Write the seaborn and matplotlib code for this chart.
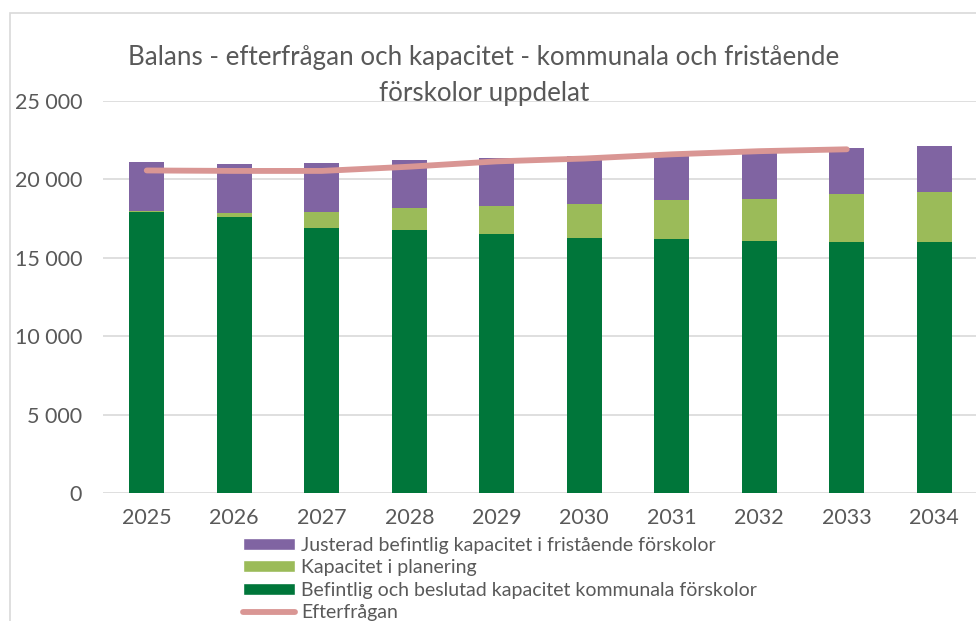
import matplotlib
matplotlib.use("Agg")
import matplotlib.pyplot as plt
import seaborn as sns
import pandas as pd
import numpy as np
from matplotlib.patches import Patch, Rectangle
from matplotlib.lines import Line2D
from matplotlib.ticker import FuncFormatter

years = ["2025", "2026", "2027", "2028", "2029", "2030", "2031", "2032", "2033", "2034"]
befintlig = [17920, 17600, 16900, 16770, 16520, 16260, 16200, 16070, 16010, 16010]
planering = [80, 255, 1020, 1410, 1780, 2170, 2490, 2680, 3060, 3190]
fristaende = [3110, 3125, 3130, 3060, 3060, 3050, 2950, 3050, 2930, 2930]
efterfragan_years = ["2025", "2026", "2027", "2028", "2029", "2030", "2031", "2032", "2033"]
efterfragan = [20570, 20540, 20540, 20810, 21150, 21330, 21600, 21800, 21920]

labels = ["Justerad befintlig kapacitet i fristående förskolor",
          "Kapacitet i planering",
          "Befintlig och beslutad kapacitet kommunala förskolor",
          "Efterfrågan"]
title = "Balans - efterfrågan och kapacitet - kommunala och fristående\nförskolor uppdelat"

c_purple = "#8064A2"
c_light = "#9BBB59"
c_green = "#00763A"
c_line = "#D99694"
c_text = "#595959"
c_grid = "#D9D9D9"

sns.set_theme(style="white")
plt.rcParams["font.family"] = ["Lato", "DejaVu Sans"]

df = pd.DataFrame({"year": years, "bef": befintlig, "plan": planering, "fri": fristaende})
df["lvl2"] = df["bef"] + df["plan"]
df["lvl3"] = df["lvl2"] + df["fri"]

fig = plt.figure(figsize=(9.76, 6.21), dpi=100)
# chart border
fig.patches.append(Rectangle((10 / 976, -0.1), 1.2, 1 - 13 / 621 + 0.1, transform=fig.transFigure,
                             fill=False, edgecolor="#D9D9D9", linewidth=1.2))

ax = fig.add_axes([103 / 976, 1 - 493 / 621, 875 / 976, (493 - 101) / 621])

bar_kw = dict(width=0.4, saturation=1, ax=ax, zorder=2, edgecolor="none", linewidth=0)
sns.barplot(data=df, x="year", y="lvl3", color=c_purple, **bar_kw)
sns.barplot(data=df, x="year", y="lvl2", color=c_light, **bar_kw)
sns.barplot(data=df, x="year", y="bef", color=c_green, **bar_kw)

xpos = [years.index(y) for y in efterfragan_years]
line_df = pd.DataFrame({"x": xpos, "v": efterfragan})
sns.lineplot(data=line_df, x="x", y="v", color=c_line, linewidth=4.2, ax=ax, zorder=3,
             solid_capstyle="round")

ax.set_xlim(-0.5, 9.5)
ax.set_ylim(0, 25000)
ax.set_yticks([0, 5000, 10000, 15000, 20000, 25000])
ax.yaxis.set_major_formatter(FuncFormatter(lambda v, p: f"{int(v):,}".replace(",", " ")))
ax.grid(axis="y", color=c_grid, linewidth=1.2, zorder=0)
ax.set_axisbelow(True)
for s in ax.spines.values():
    s.set_visible(False)
ax.set_xlabel("")
ax.set_ylabel("")
ax.tick_params(axis="both", length=0, colors=c_text, labelsize=15.5)
ax.tick_params(axis="x", pad=11)
ax.tick_params(axis="y", pad=15)

fig.text(484 / 976, 1 - 76 / 621, title, ha="center", va="center", fontsize=18.7,
         color=c_text, linespacing=1.55)

handles = [Patch(facecolor=c_purple), Patch(facecolor=c_light), Patch(facecolor=c_green),
           Line2D([0], [0], color=c_line, linewidth=4.2, solid_capstyle="round")]
leg = fig.legend(handles, labels, loc="upper left", bbox_to_anchor=(233 / 976, 1 - 527 / 621),
                 frameon=False, fontsize=14, labelcolor=c_text, handlelength=2.7,
                 handleheight=0.6, handletextpad=0.3, labelspacing=0.28, borderpad=0)

fig.savefig("out.png", dpi=100)
